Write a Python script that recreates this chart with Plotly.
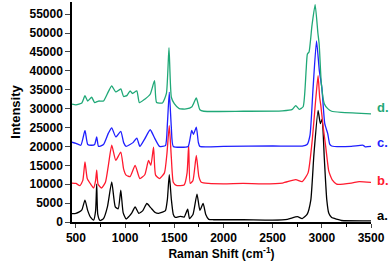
import plotly.graph_objects as go

# ---- data ----
a_x = [460, 500, 530, 560, 592, 620, 650, 680, 700, 711, 722, 745, 780, 820, 864, 900, 930, 956, 980, 1010,
       1040, 1070, 1102, 1140, 1180, 1221, 1260, 1306, 1340, 1380, 1410, 1430, 1449, 1470, 1490, 1510, 1560,
       1600, 1636, 1655, 1690, 1731, 1760, 1793, 1820, 1850, 1900, 2200, 2500, 2650, 2752, 2800, 2850, 2888,
       2920, 2962, 2985, 3003, 3025, 3050, 3071, 3100, 3120, 3200, 3500]
a_y = [2200, 2300, 2600, 3200, 5800, 3000, 1200, 500, 3000, 10000, 2000, 400, 900, 4000, 10600, 4000, 3500,
       8400, 2500, 800, 1500, 2500, 4000, 2300, 3000, 4900, 3800, 2500, 2300, 2600, 3000, 6000, 12500, 6000,
       2000, 1200, 1500, 1300, 3400, 900, 2000, 7400, 3100, 4900, 2000, 700, 600, 600, 500, 700, 1400, 900,
       2000, 5800, 18000, 29500, 26000, 27200, 17000, 6000, 2300, 1200, 1000, 400, 300]

b_x = [460, 500, 540, 570, 592, 615, 650, 680, 700, 711, 725, 760, 800, 830, 864, 905, 956, 985, 1010, 1050,
       1102, 1150, 1200, 1238, 1262, 1289, 1310, 1350, 1400, 1425, 1449, 1470, 1490, 1520, 1600, 1630, 1646,
       1662, 1690, 1724, 1750, 1775, 1850, 2000, 2200, 2400, 2600, 2735, 2800, 2860, 2900, 2940, 2962, 2978,
       2990, 3010, 3040, 3070, 3085, 3110, 3150, 3300, 3380, 3500]
b_y = [10300, 10200, 9600, 11000, 15900, 11500, 10000, 9000, 11000, 13700, 10000, 9000, 10500, 15000, 20300,
       16300, 18500, 14000, 12400, 12000, 15000, 11500, 12500, 16300, 15000, 19800, 12400, 11500, 13000,
       18000, 25500, 17000, 10500, 9700, 9800, 13000, 20300, 10200, 11000, 17600, 12000, 10500, 10200, 10100,
       10200, 10100, 10300, 11200, 10700, 13000, 21000, 33000, 38700, 33000, 30800, 26000, 19800, 13500,
       12400, 11000, 10000, 10300, 10700, 10500]

c_x = [460, 500, 550, 592, 620, 660, 690, 711, 730, 780, 830, 864, 905, 956, 985, 1010, 1050, 1080, 1119,
       1150, 1200, 1255, 1300, 1350, 1410, 1430, 1449, 1470, 1490, 1640, 1660, 1677, 1695, 1724, 1745, 1760,
       2000, 2500, 2800, 2850, 2880, 2910, 2946, 2975, 3000, 3030, 3060, 3080, 3100, 3300, 3420, 3440, 3500]
c_y = [21100, 20800, 20300, 24200, 20500, 20300, 20500, 22500, 20000, 20500, 23500, 24900, 22500, 24000,
       21000, 20000, 20500, 21000, 22200, 20000, 22000, 24400, 22200, 20000, 20200, 26000, 34300, 25000,
       20000, 20000, 22000, 24200, 23200, 25100, 21000, 20000, 20000, 20100, 20100, 20500, 23000, 35000,
       47900, 40000, 35600, 26000, 23400, 20600, 20100, 20000, 20300, 19900, 20000]

d_x = [460, 500, 560, 592, 620, 660, 690, 730, 780, 830, 864, 905, 956, 985, 1020, 1051, 1075, 1119, 1145,
       1200, 1255, 1299, 1320, 1380, 1420, 1446, 1470, 1500, 1550, 1620, 1680, 1724, 1760, 1800, 2200, 2600,
       2700, 2735, 2770, 2810, 2840, 2853, 2870, 2900, 2932, 2960, 2973, 2995, 3025, 3060, 3100, 3200, 3350,
       3500]
d_y = [31200, 31000, 31500, 33400, 32000, 33000, 31600, 32000, 32000, 34500, 36000, 34400, 35200, 33200,
       33500, 34700, 34000, 34700, 31600, 32500, 33800, 37400, 31600, 31500, 34000, 46100, 33000, 31300,
       30000, 29900, 30500, 32800, 29700, 29300, 29300, 29400, 29800, 30800, 29800, 30500, 40000, 44400,
       45000, 52000, 57500, 50000, 47100, 36600, 31300, 30000, 29300, 29000, 28800, 28600]

labels = ["a.", "b.", "c.", "d."]
label_y = [1800, 11000, 21000, 30300]
colors = ["#000000", "#ff1a2e", "#1f1fff", "#1fa877"]

y_ticks = list(range(0, 55001, 5000))
y_ticktext = [str(v) for v in y_ticks]
x_ticks = [500, 1000, 1500, 2000, 2500, 3000, 3500]
x_ticktext = [str(v) for v in x_ticks]

FONT = "Liberation Sans, Arial, sans-serif"

fig = go.Figure()
for xs, ys, col in [(a_x, a_y, colors[0]), (b_x, b_y, colors[1]), (c_x, c_y, colors[2]), (d_x, d_y, colors[3])]:
    fig.add_trace(go.Scatter(x=xs, y=ys, mode="lines",
                             line=dict(color=col, width=1.3, shape="spline", smoothing=0.5),
                             showlegend=False, hoverinfo="skip"))

for lab, ly, col in zip(labels, label_y, colors):
    fig.add_annotation(x=3500, xref="x", y=ly, yref="y", text="<b>" + lab + "</b>", showarrow=False,
                       xanchor="left", yanchor="middle", xshift=4,
                       font=dict(family=FONT, size=13, color=col))

fig.update_layout(
    width=392, height=268,
    margin=dict(l=72, r=21, t=2, b=46),
    paper_bgcolor="white", plot_bgcolor="white",
    font=dict(family=FONT, size=12, color="black"),
    xaxis=dict(range=[460, 3500], tickvals=x_ticks, ticktext=["<b>" + t + "</b>" for t in x_ticktext],
               ticks="outside", ticklen=4, tickwidth=1.3,
               showline=True, linecolor="black", linewidth=1.5, showgrid=False, zeroline=False,
               minor=dict(dtick=250, tick0=500, ticks="outside", ticklen=3, tickwidth=1.2, tickcolor="black"),
               tickfont=dict(family=FONT, size=12),
               title=dict(text="<b>Raman Shift (cm<sup>-1</sup>)</b>", standoff=4,
                          font=dict(family=FONT, size=12))),
    yaxis=dict(range=[0, 58200], tickvals=y_ticks, ticktext=["<b>" + t + "</b>" for t in y_ticktext],
               ticks="outside", ticklen=5, tickwidth=1.3,
               showline=True, linecolor="black", linewidth=1.5, showgrid=False, zeroline=False,
               tickfont=dict(family=FONT, size=12),
               title=dict(text="<b>Intensity</b>", standoff=6,
                          font=dict(family=FONT, size=13))),
)

fig.write_html("out.html", config={"displayModeBar": False},
               post_script="document.body.style.margin='0px';")
